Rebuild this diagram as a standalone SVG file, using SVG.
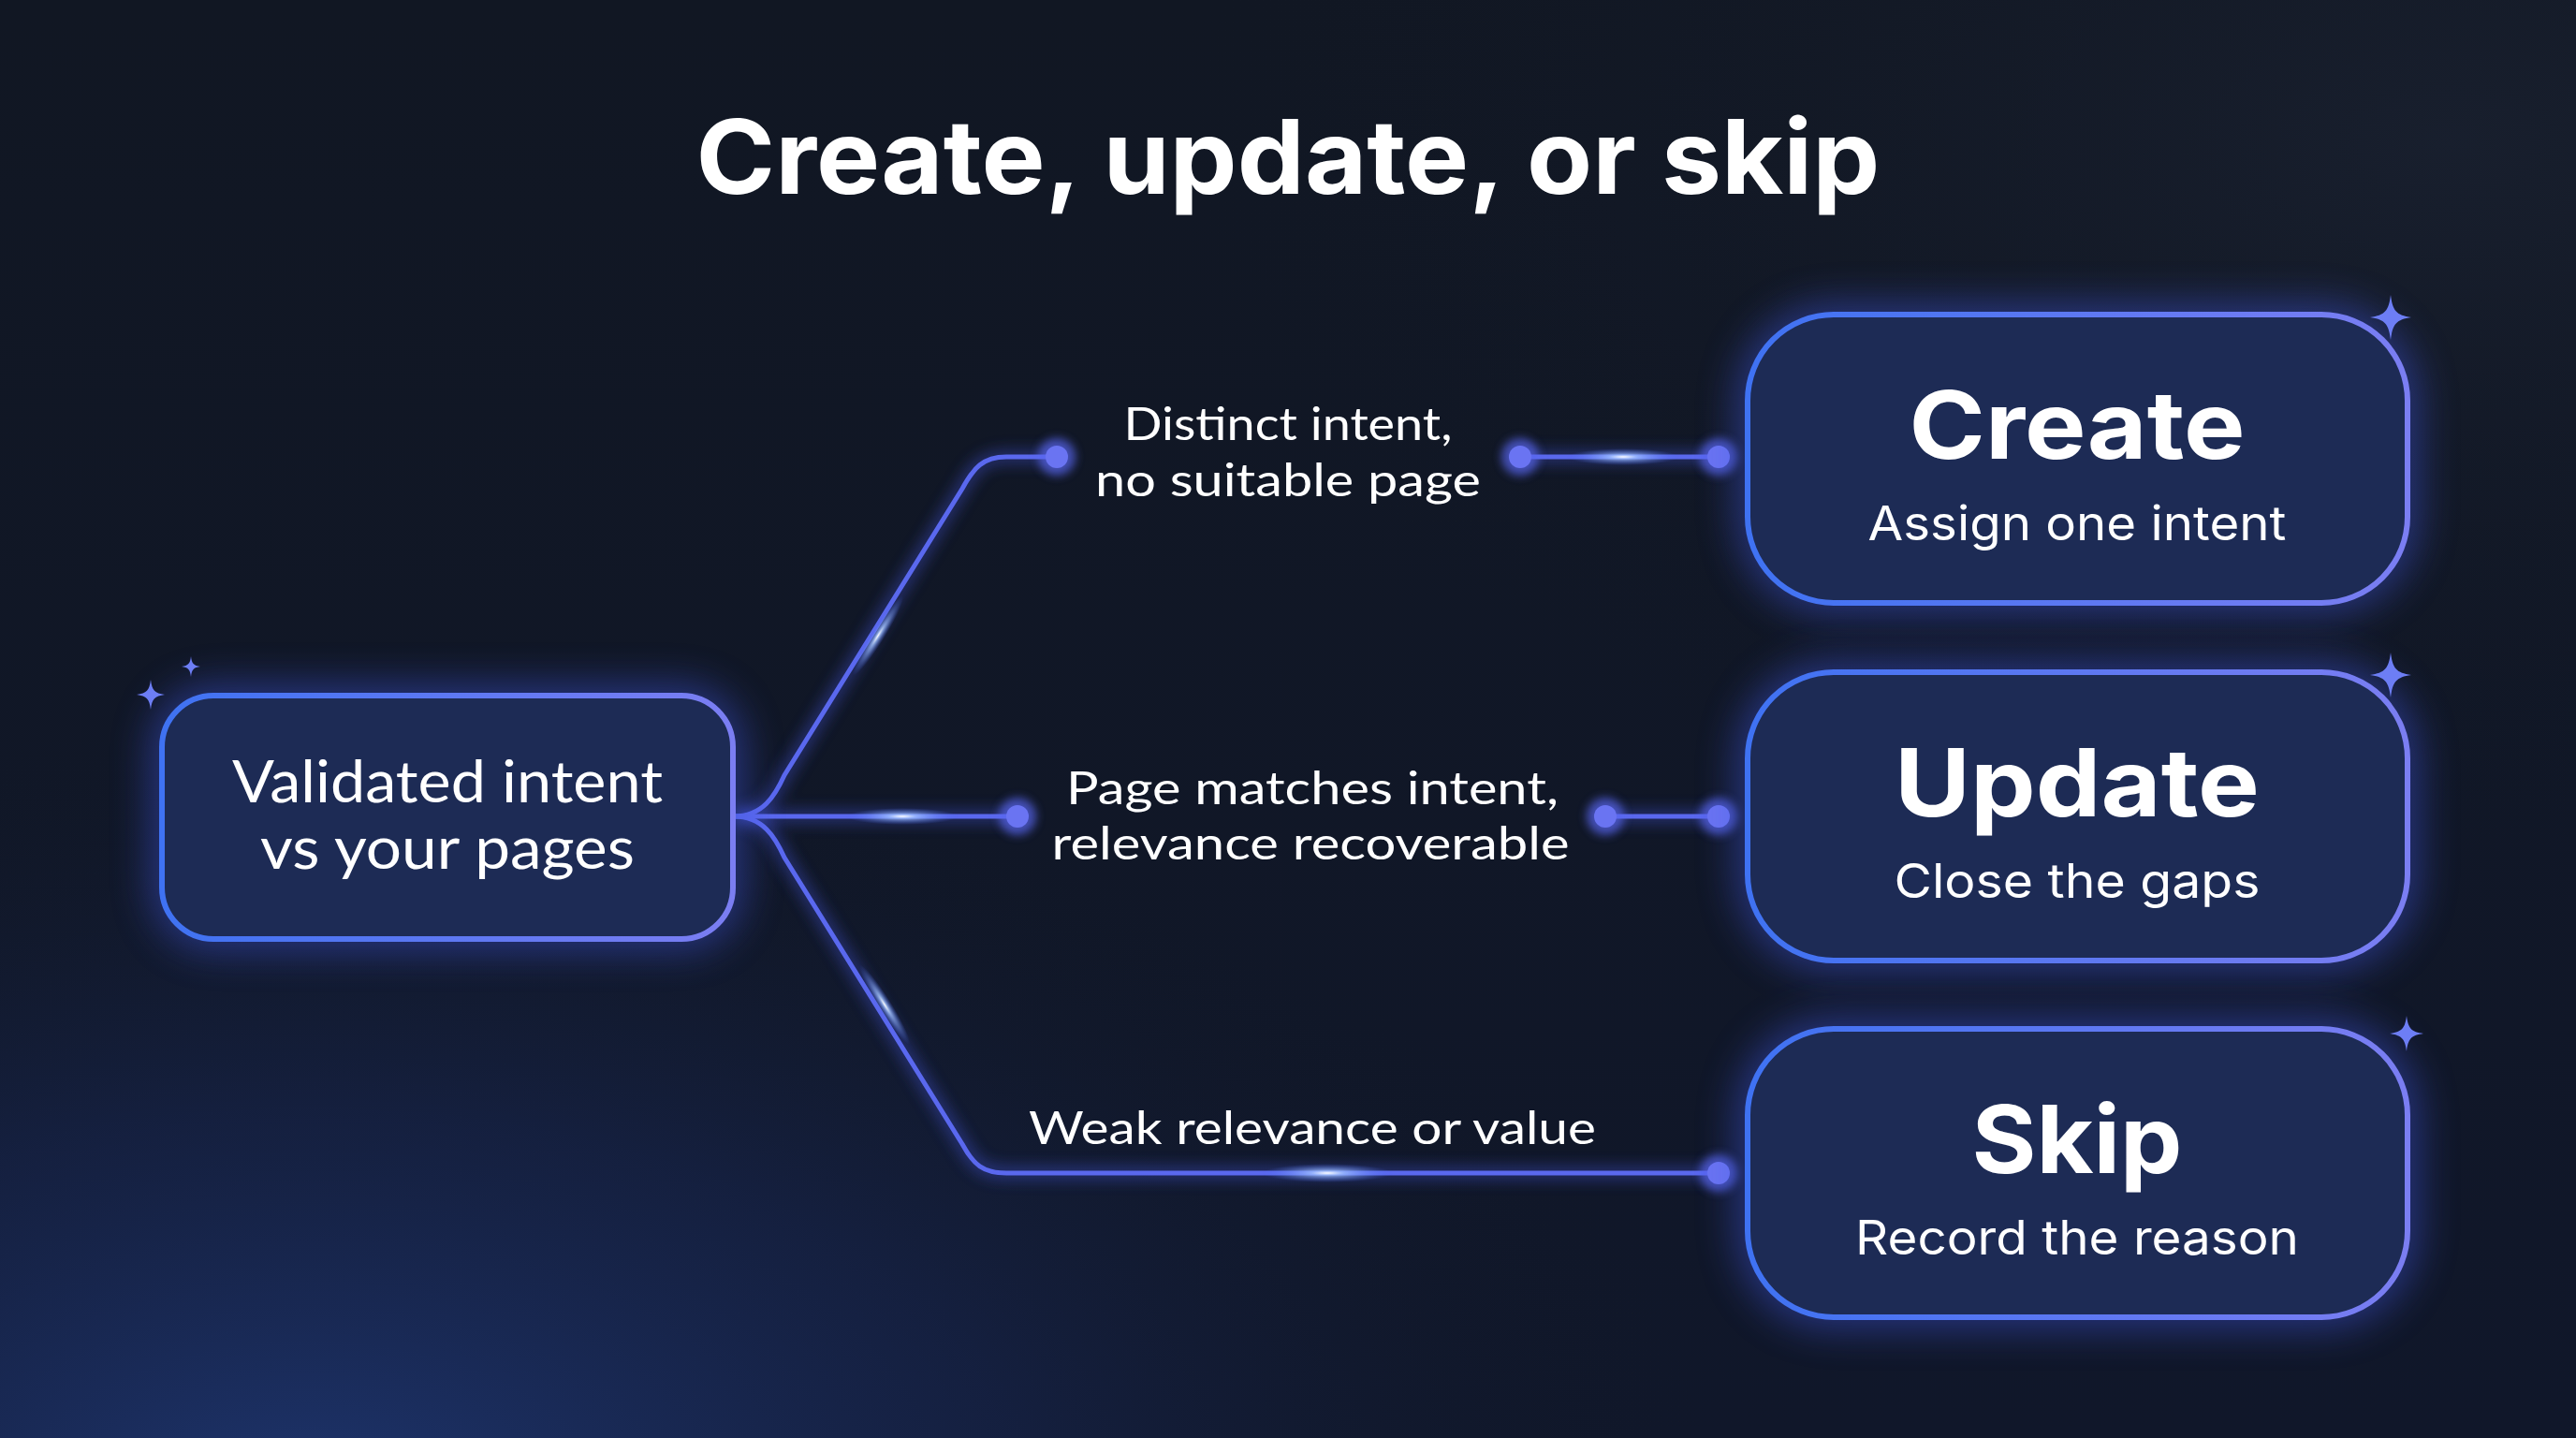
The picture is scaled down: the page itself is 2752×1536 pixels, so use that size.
<svg xmlns="http://www.w3.org/2000/svg" width="2752" height="1536" viewBox="0 0 2752 1536">
<defs>
<linearGradient id="bgBase" x1="0" y1="0" x2="0" y2="1">
<stop offset="0" stop-color="#111723"/>
<stop offset="1" stop-color="#10172a"/>
</linearGradient>
<radialGradient id="bgBlue" cx="0.12" cy="1.05" r="0.55">
<stop offset="0" stop-color="#203a7a" stop-opacity="0.85"/>
<stop offset="0.5" stop-color="#1a2a5a" stop-opacity="0.45"/>
<stop offset="1" stop-color="#111723" stop-opacity="0"/>
</radialGradient>
<radialGradient id="bgRight" cx="0.95" cy="0.1" r="0.5">
<stop offset="0" stop-color="#1a2130" stop-opacity="0.8"/>
<stop offset="1" stop-color="#111723" stop-opacity="0"/>
</radialGradient>
<linearGradient id="edge" x1="0" y1="0" x2="1" y2="0">
<stop offset="0" stop-color="#3f72f2"/>
<stop offset="1" stop-color="#7b7ef2"/>
</linearGradient>
<filter id="glowBig" x="-30%" y="-30%" width="160%" height="160%">
<feGaussianBlur stdDeviation="22"/>
</filter>
<filter id="glowMid" x="-50%" y="-50%" width="200%" height="200%">
<feGaussianBlur stdDeviation="8"/>
</filter>
<filter id="glowSm" x="-100%" y="-100%" width="300%" height="300%">
<feGaussianBlur stdDeviation="5"/>
</filter>
<path id="spark" d="M0,-1 C0.1,-0.28 0.28,-0.1 1,0 C0.28,0.1 0.1,0.28 0,1 C-0.1,0.28 -0.28,0.1 -1,0 C-0.28,-0.1 -0.1,-0.28 0,-1 Z"/>
<radialGradient id="flare">
<stop offset="0" stop-color="#ffffff" stop-opacity="1"/>
<stop offset="0.25" stop-color="#9fc0ff" stop-opacity="0.8"/>
<stop offset="1" stop-color="#4a6cf0" stop-opacity="0"/>
</radialGradient>
</defs>
<style>
.box{fill:#1d2b55;stroke:url(#edge);stroke-width:6}
.halo{fill:#2f44b8;stroke:#4a5ef0;stroke-width:18;opacity:0.55}
.ttl{font-family:Inter,"Liberation Sans",sans-serif;font-weight:700;fill:#ffffff;text-anchor:middle}
.sub{font-family:Inter,"Liberation Sans",sans-serif;font-weight:400;fill:#ffffff;text-anchor:middle}
.lbl{font-family:Lato,"Noto Sans","Liberation Sans",sans-serif;font-weight:400;fill:#ffffff;text-anchor:middle}
.wire{fill:none;stroke:#5a68ee;stroke-width:5;stroke-linecap:round;stroke-linejoin:round}
.wireglow{fill:none;stroke:#4a5cf0;stroke-width:12;opacity:0.45}
.dot{fill:#6a74f2}
.dotglow{fill:#5a66f0;opacity:0.7}
.sp{fill:#6d7ef5}
</style>
<rect width="2752" height="1536" fill="url(#bgBase)"/>
<rect width="2752" height="1536" fill="url(#bgRight)"/>
<rect width="2752" height="1536" fill="url(#bgBlue)"/>

<g id="title">
<text class="ttl" x="1376" y="207" font-size="110" textLength="1265" lengthAdjust="spacingAndGlyphs">Create, update, or skip</text>
</g>

<g id="connectors">
<g filter="url(#glowMid)">
<path class="wireglow" d="M784 872 C815 872 828 850 838 828 L1028 522 C1040 500 1050 488 1075 488 L1129 488"/>
<path class="wireglow" d="M784 872 L1087 872"/>
<path class="wireglow" d="M784 872 C815 872 828 894 838 916 L1028 1222 C1040 1244 1050 1253 1075 1253 L1836 1253"/>
<path class="wireglow" d="M1624 488 L1836 488"/>
<path class="wireglow" d="M1715 872 L1836 872"/>
</g>
<path class="wire" d="M784 872 C815 872 828 850 838 828 L1028 522 C1040 500 1050 488 1075 488 L1129 488"/>
<path class="wire" d="M784 872 L1087 872"/>
<path class="wire" d="M784 872 C815 872 828 894 838 916 L1028 1222 C1040 1244 1050 1253 1075 1253 L1836 1253"/>
<path class="wire" d="M1624 488 L1836 488"/>
<path class="wire" d="M1715 872 L1836 872"/>
<g filter="url(#glowSm)">
<circle class="dotglow" cx="1129" cy="488" r="20"/>
<circle class="dotglow" cx="1087" cy="872" r="20"/>
<circle class="dotglow" cx="1624" cy="488" r="20"/>
<circle class="dotglow" cx="1836" cy="488" r="20"/>
<circle class="dotglow" cx="1715" cy="872" r="20"/>
<circle class="dotglow" cx="1836" cy="872" r="20"/>
<circle class="dotglow" cx="1836" cy="1253" r="20"/>
</g>
<circle class="dot" cx="1129" cy="488" r="12"/>
<circle class="dot" cx="1087" cy="872" r="12"/>
<circle class="dot" cx="1624" cy="488" r="12"/>
<circle class="dot" cx="1836" cy="488" r="12"/>
<circle class="dot" cx="1715" cy="872" r="12"/>
<circle class="dot" cx="1836" cy="872" r="12"/>
<circle class="dot" cx="1836" cy="1253" r="12"/>
<ellipse cx="964" cy="872" rx="60" ry="9" fill="url(#flare)"/>
<ellipse cx="1734" cy="488" rx="60" ry="9" fill="url(#flare)"/>
<ellipse cx="1418" cy="1253" rx="70" ry="10" fill="url(#flare)"/>
<ellipse cx="0" cy="0" rx="50" ry="7" fill="url(#flare)" transform="translate(938 679) rotate(-58)"/>
<ellipse cx="0" cy="0" rx="50" ry="7" fill="url(#flare)" transform="translate(945 1073) rotate(58)"/>
</g>

<g id="labels">
<text class="lbl" x="1376" y="470" font-size="49" textLength="351" lengthAdjust="spacingAndGlyphs">Distinct intent,</text>
<text class="lbl" x="1376" y="530" font-size="49" textLength="412" lengthAdjust="spacingAndGlyphs">no suitable page</text>
<text class="lbl" x="1402" y="859" font-size="49" textLength="526" lengthAdjust="spacingAndGlyphs">Page matches intent,</text>
<text class="lbl" x="1400" y="918" font-size="49" textLength="553" lengthAdjust="spacingAndGlyphs">relevance recoverable</text>
<text class="lbl" x="1402" y="1222" font-size="49" textLength="606" lengthAdjust="spacingAndGlyphs">Weak relevance or value</text>
</g>

<g id="node-validated">
<rect class="halo" x="173" y="743" width="610" height="260" rx="55" filter="url(#glowBig)"/>
<rect class="box" x="173" y="743" width="610" height="260" rx="55"/>
<text class="lbl" x="478" y="857" font-size="62" textLength="460" lengthAdjust="spacingAndGlyphs">Validated intent</text>
<text class="lbl" x="478" y="928" font-size="62" textLength="400" lengthAdjust="spacingAndGlyphs">vs your pages</text>
<use href="#spark" class="sp" transform="translate(161 742) scale(15 16)"/>
<use href="#spark" class="sp" transform="translate(204 712) scale(10 11)"/>
</g>

<g id="node-create">
<rect class="halo" x="1867" y="336" width="705" height="308" rx="92" filter="url(#glowBig)"/>
<rect class="box" x="1867" y="336" width="705" height="308" rx="92"/>
<text class="ttl" x="2219" y="490" font-size="100" textLength="359" lengthAdjust="spacingAndGlyphs">Create</text>
<text class="sub" x="2219" y="577" font-size="51" textLength="447" lengthAdjust="spacingAndGlyphs">Assign one intent</text>
<use href="#spark" class="sp" transform="translate(2554 339) scale(22 24)" filter="url(#glowSm)" opacity="0.6"/>
<use href="#spark" class="sp" transform="translate(2554 339) scale(22 24)"/>
</g>

<g id="node-update">
<rect class="halo" x="1867" y="718" width="705" height="308" rx="92" filter="url(#glowBig)"/>
<rect class="box" x="1867" y="718" width="705" height="308" rx="92"/>
<text class="ttl" x="2219" y="872" font-size="100" textLength="390" lengthAdjust="spacingAndGlyphs">Update</text>
<text class="sub" x="2219" y="959" font-size="51" textLength="391" lengthAdjust="spacingAndGlyphs">Close the gaps</text>
<use href="#spark" class="sp" transform="translate(2554 721) scale(22 24)" filter="url(#glowSm)" opacity="0.6"/>
<use href="#spark" class="sp" transform="translate(2554 721) scale(22 24)"/>
</g>

<g id="node-skip">
<rect class="halo" x="1867" y="1099" width="705" height="308" rx="92" filter="url(#glowBig)"/>
<rect class="box" x="1867" y="1099" width="705" height="308" rx="92"/>
<text class="ttl" x="2219" y="1253" font-size="100" textLength="225" lengthAdjust="spacingAndGlyphs">Skip</text>
<text class="sub" x="2219" y="1340" font-size="51" textLength="474" lengthAdjust="spacingAndGlyphs">Record the reason</text>
<use href="#spark" class="sp" transform="translate(2571 1104) scale(18 19)" filter="url(#glowSm)" opacity="0.6"/>
<use href="#spark" class="sp" transform="translate(2571 1104) scale(18 19)"/>
</g>
</svg>
